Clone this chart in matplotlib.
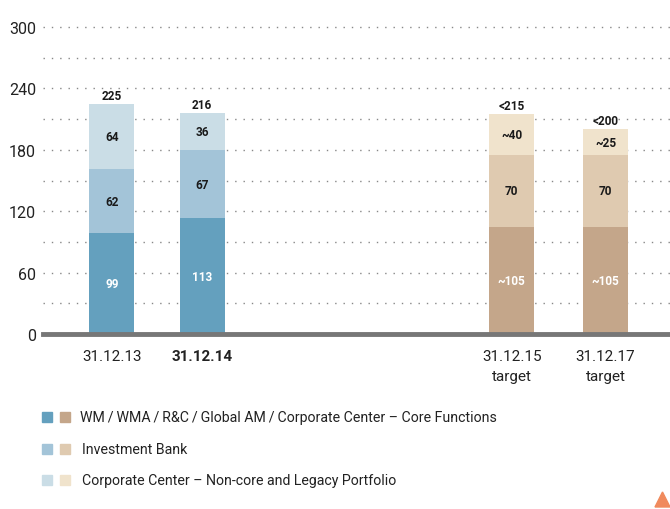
import matplotlib
matplotlib.use('Agg')
import matplotlib.pyplot as plt
from matplotlib.patches import Rectangle, Polygon

# Data: risk-weighted assets by business division (CHF bn)
periods = ['31.12.13', '31.12.14', '31.12.15\ntarget', '31.12.17\ntarget']
core = [99, 113, 105, 105]
ib = [62, 67, 70, 70]
noncore = [64, 36, 40, 25]
core_labels = ['99', '113', '~105', '~105']
ib_labels = ['62', '67', '70', '70']
noncore_labels = ['64', '36', '~40', '~25']
total_labels = ['225', '216', '<215', '<200']
series_names = ['WM\u2009/\u2009WMA\u2009/\u2009R&C\u2009/\u2009Global AM\u2009/\u2009Corporate Center \u2013 Core Functions',
                'Investment Bank',
                'Corporate Center \u2013 Non-core and Legacy Portfolio']

xpos = [0, 1, 4.43, 5.47]
blues = ['#64A0BE', '#A3C4D8', '#CADDE6']
browns = ['#C4A68A', '#DFCAB0', '#F0E3CC']

plt.rcParams['font.family'] = ['Roboto', 'DejaVu Sans']

fig = plt.figure(figsize=(6.7, 5.1), dpi=100)
ax = fig.add_axes([0.064, 0.343, 0.936, 0.602])
ax.set_xlim(-0.765, 6.185)
ax.set_ylim(0, 300)

# dotted guide lines every 30
for y in range(30, 301, 30):
    ax.axhline(y, color='#888888', lw=1.0, ls=(0, (1, 5)), zorder=0, clip_on=False)

w = 0.5
for i, x in enumerate(xpos):
    cols = blues if i < 2 else browns
    b0 = 0
    for vals, labs, c in ((core, core_labels, cols[0]),
                          (ib, ib_labels, cols[1]),
                          (noncore, noncore_labels, cols[2])):
        v = vals[i]
        ax.bar(x, v, width=w, bottom=b0, color=c, zorder=2, linewidth=0)
        tc = 'white' if vals is core else '#1a1a1a'
        ax.text(x, b0 + v / 2, labs[i], ha='center', va='center',
                fontsize=8.5, fontweight='bold', color=tc, zorder=3)
        b0 += v
    ax.text(x, b0 + 2, total_labels[i], ha='center', va='bottom',
            fontsize=8.5, fontweight='bold', color='#1a1a1a', zorder=3)

ax.axhline(0, color='#777777', lw=3.5, zorder=4, clip_on=False)

ax.set_yticks(range(0, 301, 60))
ax.set_xticks(xpos)
ax.set_xticklabels(periods, fontsize=11, color='#222222', linespacing=1.55)
ax.get_xticklabels()[1].set_fontweight('bold')
ax.tick_params(axis='y', length=0, pad=5, labelsize=11.5, labelcolor='#222222')
ax.tick_params(axis='x', length=0, pad=11)
for s in ax.spines.values():
    s.set_visible(False)

# legend drawn in figure pixels
W, H = 670.0, 510.0
for k, yc in enumerate([418, 450, 481]):
    for x0, col in ((42, blues[k]), (60, browns[k])):
        fig.patches.append(Rectangle((x0 / W, 1 - (yc + 5) / H), 10 / W, 10 / H,
                                     transform=fig.transFigure, color=col))
    fig.text((80 if k == 0 else 82) / W, 1 - yc / H, series_names[k], ha='left', va='center',
             fontsize=10.2, color='#222222')

fig.patches.append(Polygon([(655 / W, 1 - 508 / H), (670 / W, 1 - 508 / H), (662.5 / W, 1 - 493 / H)],
                           closed=True, transform=fig.transFigure, color='#F08A5D'))

fig.savefig('out.png', dpi=100)
